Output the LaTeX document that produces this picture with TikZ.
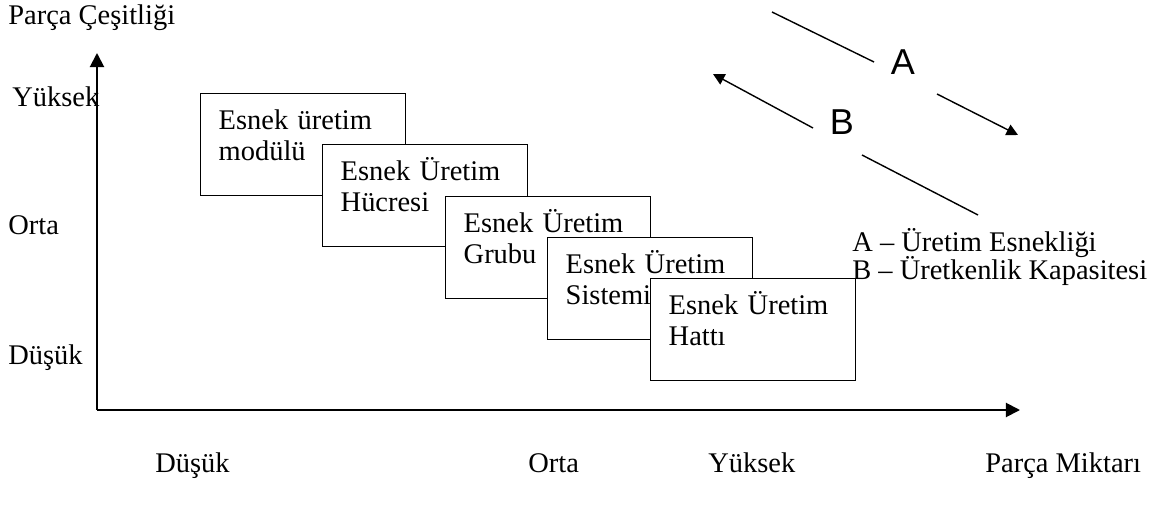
\documentclass[tikz,border=0pt]{standalone}
\usepackage{fontspec}
\setmainfont{Liberation Serif}
\newfontfamily\abfont{Liberation Sans}
\usetikzlibrary{arrows.meta}
\tikzset{
  cell/.style={draw, line width=.8pt, fill=white, anchor=north west, align=left,
    text width=3.38cm, inner xsep=.36cm, inner ysep=0pt,
    text height=.72cm, text depth=1.32cm},
  lbl/.style={inner sep=0pt, anchor=base west},
  ab/.style={inner sep=0pt, font=\abfont\fontsize{20.5}{24}\selectfont}
}
\begin{document}
\begin{tikzpicture}[x=.02cm, y=-.02cm, >={Triangle[length=8pt,width=8pt]},
  font=\fontsize{16.2}{17.6}\selectfont]
\useasboundingbox (0,0) rectangle (1154,510);
% axes
\coordinate (O) at (97,410);
\coordinate (ytop) at (97,53);
\coordinate (xend) at (1020,410);
\draw[->, line width=1.1pt] (O)--(ytop);
\draw[->, line width=1.1pt] (O)--(xend);
\node[lbl] (ttl) at (8,25){Parça Çeşitliği};
\node[lbl] (yhi) at (12,107){Yüksek};
\node[lbl] (ymid) at (8,235){Orta};
\node[lbl] (ylo) at (8,364){Düşük};
\node[lbl] (xlo) at (155,472){Düşük};
\node[lbl] (xmid) at (528,472){Orta};
\node[lbl] (xhi) at (708,472){Yüksek};
\node[lbl] (xttl) at (985,472){Parça Miktarı};

% boxes
\node[cell] (modul) at (200,93){Esnek üretim\\modülü};
\node[cell] (hucre) at (322,144){Esnek Üretim\\Hücresi};
\node[cell] (grup) at (445,196){Esnek Üretim\\Grubu};
\node[cell] (sistem) at (547,237){Esnek Üretim\\Sistemi};
\node[cell] (hat) at (650,278){Esnek Üretim\\Hattı};

% A and B
\node[ab] (A) at (903,62){A};
\node[ab] (B) at (842,122){B};
\coordinate (a1) at (772,12);
\coordinate (a2) at (874,62);
\coordinate (a3) at (937,94);
\coordinate (a4) at (1018,135);
\coordinate (b1) at (978,215);
\coordinate (b2) at (862,155);
\coordinate (b3) at (813,128);
\coordinate (b4) at (713,74);
\draw[line width=.8pt] (a1)--(a2);
\draw[->, >={Triangle[length=6.5pt,width=6.5pt]}, line width=.8pt] (a3)--(a4);
\draw[line width=.8pt] (b1)--(b2);
\draw[->, >={Triangle[length=6.5pt,width=6.5pt]}, line width=.8pt] (b3)--(b4);
\node[lbl] (legA) at (852,252){A – Üretim Esnekliği};
\node[lbl] (legB) at (852,279){B – Üretkenlik Kapasitesi};
\end{tikzpicture}
\end{document}
